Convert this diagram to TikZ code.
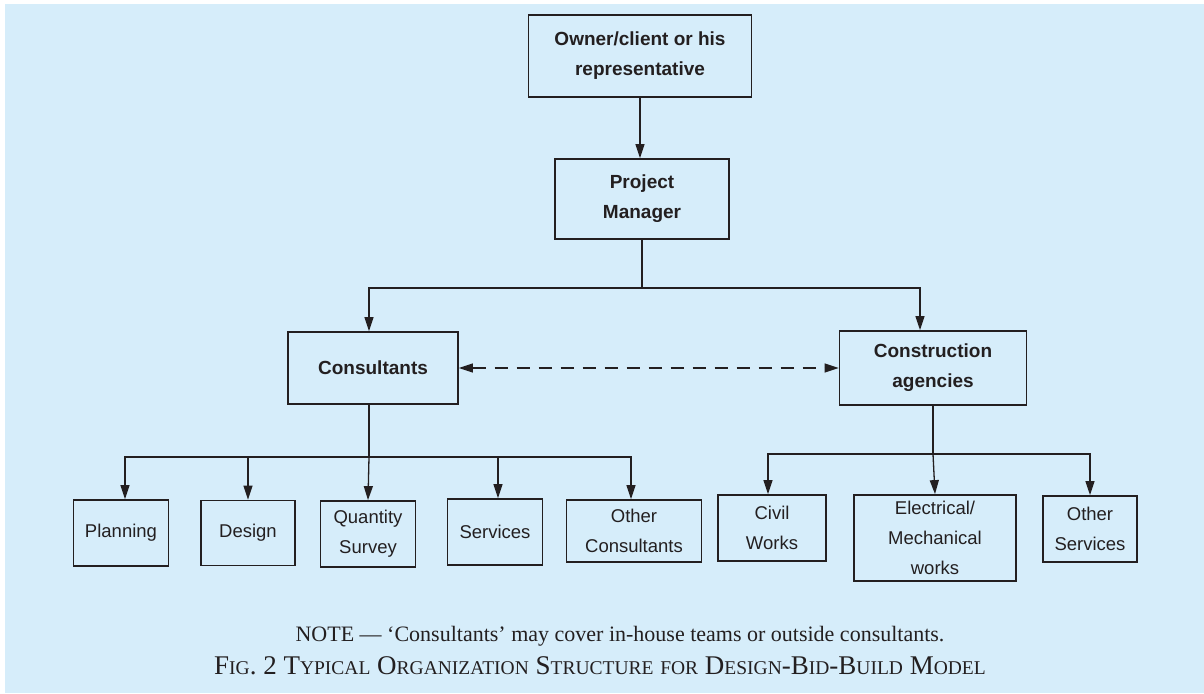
\documentclass[tikz,border=0pt]{standalone}
\usepackage{fontspec}
\setmainfont{Liberation Serif}
\setsansfont{Liberation Sans}
\usetikzlibrary{arrows.meta}
\definecolor{panelblue}{RGB}{214,237,250}
\definecolor{inkgray}{RGB}{35,31,32}
\newcommand\smc[1]{{\fontsize{19.5}{19.5}\selectfont #1}}
\tikzset{
  unit/.style={draw=inkgray, line width=1.8pt, inner sep=0pt, align=center,
    text=inkgray, font=\sffamily\fontsize{18.5}{30}\selectfont},
  head/.style={unit, font=\sffamily\bfseries\fontsize{19}{30}\selectfont},
  link/.style={draw=inkgray, line width=1.3pt, -{Triangle[length=14pt,width=9pt]}}
}
\begin{document}
\begin{tikzpicture}[x=1pt,y=-1pt]
  \fill[white] (0,0) rectangle (1204,693);
  \fill[panelblue] (5,4) rectangle (1204,693);
  \draw
    (640,56) node[head, minimum width=223pt, minimum height=82pt] (owner) {Owner/client or his\\representative}
    (642,199) node[head, minimum width=174pt, minimum height=80pt] (pm) {Project\\Manager}
    (373,368) node[head, minimum width=170pt, minimum height=72pt] (cons) {Consultants}
    (933,368) node[head, minimum width=187pt, minimum height=74pt] (constr) {Construction\\agencies}
    (121,533) node[unit, minimum width=95pt, minimum height=66pt] (planning) {Planning}
    (248,533) node[unit, minimum width=94pt, minimum height=65pt] (design) {Design}
    (368,534) node[unit, minimum width=95pt, minimum height=66pt] (qs) {Quantity\\Survey}
    (495,532) node[unit, minimum width=95pt, minimum height=66pt] (services) {Services}
    (634,531) node[unit, minimum width=135pt, minimum height=62pt] (othercons) {Other\\Consultants}
    (772,528) node[unit, minimum width=108pt, minimum height=66pt] (civil) {Civil\\Works}
    (935,538) node[unit, minimum width=162pt, minimum height=86pt] (elec) {Electrical/\\Mechanical\\works}
    (1090,529) node[unit, minimum width=94pt, minimum height=66pt] (othersvc) {Other\\Services};
  \coordinate (pmfork) at (642,288);
  \coordinate (consfork) at (369,457);
  \coordinate (constrfork) at (933,454);
  \begin{scope}[link]
    \draw (owner.south) -- (owner.south |- pm.north);
    \draw[-] (pm.south) -- (pmfork);
    \draw (pmfork) -| ([xshift=-4pt]cons.north);
    \draw (pmfork) -| ([xshift=-13pt]constr.north);
    \draw[{Triangle[length=14pt,width=9pt]}-{Triangle[length=14pt,width=9pt]}, dash pattern=on 13pt off 9pt] (cons.east) -- (constr.west);
    \draw[-] ([xshift=-4pt]cons.south) -- (consfork);
    \draw (consfork) -| ([xshift=4pt]planning.north);
    \draw (consfork) -| (design.north);
    \draw (consfork) -- (qs.north);
    \draw (consfork) -| ([xshift=3pt]services.north);
    \draw (consfork) -| ([xshift=-3pt]othercons.north);
    \draw[-] (constr.south) -- (constrfork);
    \draw (constrfork) -| ([xshift=-4pt]civil.north);
    \draw (constrfork) -- (elec.north);
    \draw (constrfork) -| (othersvc.north);
  \end{scope}
  \node[text=inkgray, font=\fontsize{22}{22}\selectfont] (note) at (620,636)
    {NOTE --- `Consultants' may cover in-house teams or outside consultants.};
  \node[text=inkgray, font=\fontsize{27}{27}\selectfont] (caption) at (600,666)
    {F\smc{IG}. 2 T\smc{YPICAL} O\smc{RGANIZATION} S\smc{TRUCTURE} \smc{FOR} D\smc{ESIGN}-B\smc{ID}-B\smc{UILD} M\smc{ODEL}};
\end{tikzpicture}
\end{document}
